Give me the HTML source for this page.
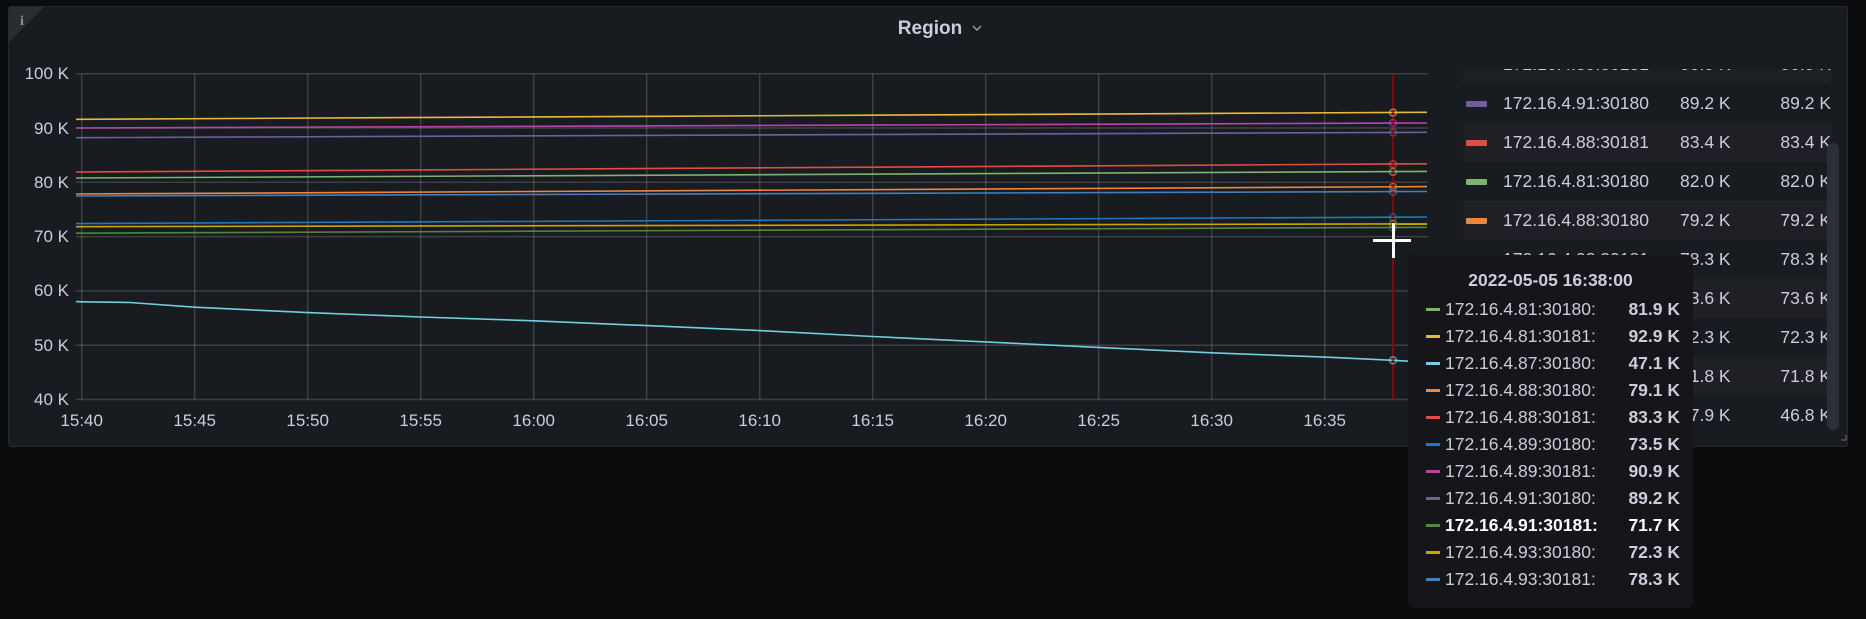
<!DOCTYPE html>
<html><head><meta charset="utf-8"><style>
body{margin:0;width:1866px;height:619px;background:#0b0c0e;overflow:hidden;font-family:"Liberation Sans",sans-serif;position:relative}
.panel{position:absolute;left:8px;top:6px;width:1840px;height:441px;background:#181b1f;border:1px solid #25282d;border-radius:3px;box-sizing:border-box}
svg{position:absolute;left:0;top:0}
.leg{position:absolute;left:1463px;top:69px;width:368px;height:365px;overflow:hidden}
.row{position:absolute;left:0;width:368px;height:39px;color:#ccccdc;font-size:17.5px;line-height:39px}
.row.a{background:#1e2025}
.row .sw{position:absolute;left:3px;top:17px;width:21px;height:6px;border-radius:1px}
.row .n{position:absolute;left:40px}
.row .v1{position:absolute;left:217px}
.row .v2{position:absolute;right:0}
.sb{position:absolute;left:1827px;top:143px;width:12px;height:287px;background:#2c2f35;border-radius:6px}
.tip{position:absolute;left:1408px;top:255px;width:285px;height:353px;background:#141619;border-radius:6px;color:#ccccdc;font-size:17.5px}
.tip .t{position:absolute;left:0;width:285px;top:15px;text-align:center;font-weight:bold}
.tr{position:absolute;left:0;width:285px;height:27px;line-height:27px}
.tr .sw{position:absolute;left:18px;top:12px;width:14px;height:3px}
.tr .n{position:absolute;left:37px}
.tr .v{position:absolute;right:13px;font-weight:bold}
</style></head><body>
<div class="panel"></div>
<svg width="1866" height="619">
<polygon points="9,7 44,7 9,42" fill="#2a2d32"/>
<text x="20" y="25" fill="#8e9096" font-size="14" font-weight="bold" font-family="Liberation Serif">i</text>
<text x="930" y="34" fill="#ccccdc" font-size="19" font-weight="bold" text-anchor="middle">Region</text>
<path d="M973 26 l4 4 l4 -4" stroke="#9a9ca3" fill="none" stroke-width="1.5"/>
<g stroke="rgba(255,255,255,0.16)" stroke-width="1.5">
<line x1="76" y1="73.7" x2="1428" y2="73.7"/><line x1="76" y1="128" x2="1428" y2="128"/><line x1="76" y1="182.3" x2="1428" y2="182.3"/><line x1="76" y1="236.6" x2="1428" y2="236.6"/><line x1="76" y1="290.9" x2="1428" y2="290.9"/><line x1="76" y1="345.2" x2="1428" y2="345.2"/><line x1="76" y1="399.5" x2="1428" y2="399.5"/>
<line x1="81.7" y1="73.7" x2="81.7" y2="399.5"/><line x1="194.7" y1="73.7" x2="194.7" y2="399.5"/><line x1="307.7" y1="73.7" x2="307.7" y2="399.5"/><line x1="420.7" y1="73.7" x2="420.7" y2="399.5"/><line x1="533.7" y1="73.7" x2="533.7" y2="399.5"/><line x1="646.7" y1="73.7" x2="646.7" y2="399.5"/><line x1="759.7" y1="73.7" x2="759.7" y2="399.5"/><line x1="872.7" y1="73.7" x2="872.7" y2="399.5"/><line x1="985.7" y1="73.7" x2="985.7" y2="399.5"/><line x1="1098.7" y1="73.7" x2="1098.7" y2="399.5"/><line x1="1211.7" y1="73.7" x2="1211.7" y2="399.5"/><line x1="1324.7" y1="73.7" x2="1324.7" y2="399.5"/>
</g>
<g fill="#ccccdc" font-size="17" text-anchor="end">
<text x="69" y="79">100 K</text><text x="69" y="134">90 K</text><text x="69" y="188">80 K</text><text x="69" y="242">70 K</text><text x="69" y="296">60 K</text><text x="69" y="351">50 K</text><text x="69" y="405">40 K</text>
</g>
<g fill="#ccccdc" font-size="17" text-anchor="middle">
<text x="81.7" y="426">15:40</text><text x="194.7" y="426">15:45</text><text x="307.7" y="426">15:50</text><text x="420.7" y="426">15:55</text><text x="533.7" y="426">16:00</text><text x="646.7" y="426">16:05</text><text x="759.7" y="426">16:10</text><text x="872.7" y="426">16:15</text><text x="985.7" y="426">16:20</text><text x="1098.7" y="426">16:25</text><text x="1211.7" y="426">16:30</text><text x="1324.7" y="426">16:35</text>
</g>
<g fill="none" stroke-width="1.6">
<line x1="76" y1="119.3" x2="1427" y2="112.3" stroke="#EAB839"/>
<line x1="76" y1="128" x2="1427" y2="123" stroke="#BA43A9"/>
<line x1="76" y1="137.7" x2="1427" y2="132.3" stroke="#705DA0"/>
<line x1="76" y1="172" x2="1427" y2="163.8" stroke="#E24D42"/>
<line x1="76" y1="178" x2="1427" y2="171.4" stroke="#7EB26D"/>
<line x1="76" y1="194" x2="1427" y2="186.6" stroke="#EF843C"/>
<line x1="76" y1="196" x2="1427" y2="191.5" stroke="#447EBC"/>
<line x1="76" y1="223.6" x2="1427" y2="217" stroke="#1F78C1"/>
<line x1="76" y1="226.7" x2="1427" y2="223.9" stroke="#CCA300"/>
<line x1="76" y1="233.2" x2="1427" y2="227.3" stroke="#508642"/>
<polyline stroke="#6ED0E0" points="76,301.6 81.7,301.8 130,302.5 194.7,307.2 307.7,312.6 420.7,317 533.7,320.8 646.7,325.6 759.7,330.6 872.7,336.5 985.7,341.9 1098.7,347.4 1211.7,352.8 1324.7,357.1 1393,360.3 1427,362.2"/>
</g>
<line x1="1393" y1="73.7" x2="1393" y2="399.5" stroke="#a00" stroke-width="1.5"/>
<g fill="none" stroke-width="1.3" opacity="0.7">
<circle cx="1393" cy="112.6" r="3.5" stroke="#EAB839"/><circle cx="1393" cy="123" r="3.5" stroke="#BA43A9"/><circle cx="1393" cy="132.5" r="3.5" stroke="#705DA0"/><circle cx="1393" cy="164.3" r="3.5" stroke="#E24D42"/><circle cx="1393" cy="171.9" r="3.5" stroke="#7EB26D"/><circle cx="1393" cy="187" r="3.5" stroke="#EF843C"/><circle cx="1393" cy="191.8" r="3.5" stroke="#447EBC"/><circle cx="1393" cy="217.3" r="3.5" stroke="#1F78C1"/><circle cx="1393" cy="224" r="3.5" stroke="#CCA300"/><circle cx="1393" cy="227.6" r="3.5" stroke="#508642"/><circle cx="1393" cy="360.3" r="3.5" stroke="#6ED0E0"/>
</g>
<rect x="1373" y="239" width="38" height="3" fill="#fff"/>
<rect x="1392" y="223" width="3" height="35" fill="#fff"/>
<path d="M1846 440 h-5 M1846 440 v-5" stroke="#555" stroke-width="1.5"/>
</svg>
<div class="leg">
<div class="row a" style="top:-24px"><span class="n">172.16.4.89:30181</span><span class="v1">90.9 K</span><span class="v2">90.9 K</span></div>
<div class="row" style="top:15px"><span class="sw" style="background:#705DA0"></span><span class="n">172.16.4.91:30180</span><span class="v1">89.2 K</span><span class="v2">89.2 K</span></div>
<div class="row a" style="top:54px"><span class="sw" style="background:#E24D42"></span><span class="n">172.16.4.88:30181</span><span class="v1">83.4 K</span><span class="v2">83.4 K</span></div>
<div class="row" style="top:93px"><span class="sw" style="background:#7EB26D"></span><span class="n">172.16.4.81:30180</span><span class="v1">82.0 K</span><span class="v2">82.0 K</span></div>
<div class="row a" style="top:132px"><span class="sw" style="background:#EF843C"></span><span class="n">172.16.4.88:30180</span><span class="v1">79.2 K</span><span class="v2">79.2 K</span></div>
<div class="row" style="top:171px"><span class="sw" style="background:#447EBC"></span><span class="n">172.16.4.93:30181</span><span class="v1">78.3 K</span><span class="v2">78.3 K</span></div>
<div class="row a" style="top:210px"><span class="sw" style="background:#1F78C1"></span><span class="n">172.16.4.89:30180</span><span class="v1">73.6 K</span><span class="v2">73.6 K</span></div>
<div class="row" style="top:249px"><span class="sw" style="background:#CCA300"></span><span class="n">172.16.4.93:30180</span><span class="v1">72.3 K</span><span class="v2">72.3 K</span></div>
<div class="row a" style="top:288px"><span class="sw" style="background:#508642"></span><span class="n">172.16.4.91:30181</span><span class="v1">71.8 K</span><span class="v2">71.8 K</span></div>
<div class="row" style="top:327px"><span class="sw" style="background:#6ED0E0"></span><span class="n">172.16.4.87:30180</span><span class="v1">57.9 K</span><span class="v2">46.8 K</span></div>
</div>
<div class="sb"></div>
<div class="tip">
<div class="t">2022-05-05 16:38:00</div>
<div class="tr" style="top:41px"><span class="sw" style="background:#7EB26D"></span><span class="n">172.16.4.81:30180:</span><span class="v">81.9 K</span></div>
<div class="tr" style="top:68px"><span class="sw" style="background:#EAB839"></span><span class="n">172.16.4.81:30181:</span><span class="v">92.9 K</span></div>
<div class="tr" style="top:95px"><span class="sw" style="background:#6ED0E0"></span><span class="n">172.16.4.87:30180:</span><span class="v">47.1 K</span></div>
<div class="tr" style="top:122px"><span class="sw" style="background:#EF843C"></span><span class="n">172.16.4.88:30180:</span><span class="v">79.1 K</span></div>
<div class="tr" style="top:149px"><span class="sw" style="background:#E24D42"></span><span class="n">172.16.4.88:30181:</span><span class="v">83.3 K</span></div>
<div class="tr" style="top:176px"><span class="sw" style="background:#1F78C1"></span><span class="n">172.16.4.89:30180:</span><span class="v">73.5 K</span></div>
<div class="tr" style="top:203px"><span class="sw" style="background:#BA43A9"></span><span class="n">172.16.4.89:30181:</span><span class="v">90.9 K</span></div>
<div class="tr" style="top:230px"><span class="sw" style="background:#705DA0"></span><span class="n">172.16.4.91:30180:</span><span class="v">89.2 K</span></div>
<div class="tr" style="top:257px;color:#fff"><span class="sw" style="background:#508642"></span><span class="n" style="font-weight:bold">172.16.4.91:30181:</span><span class="v">71.7 K</span></div>
<div class="tr" style="top:284px"><span class="sw" style="background:#CCA300"></span><span class="n">172.16.4.93:30180:</span><span class="v">72.3 K</span></div>
<div class="tr" style="top:311px"><span class="sw" style="background:#447EBC"></span><span class="n">172.16.4.93:30181:</span><span class="v">78.3 K</span></div>
</div>
</body></html>
